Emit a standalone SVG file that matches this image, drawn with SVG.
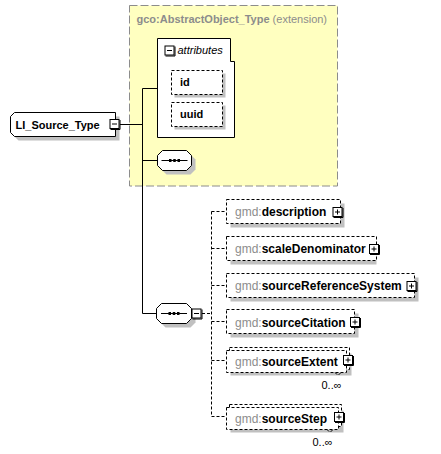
<svg xmlns="http://www.w3.org/2000/svg" width="441" height="454" viewBox="0 0 441 454">
<style>
text{font-family:"Liberation Sans",Arial,sans-serif;}
.t11{font-size:11px;font-weight:bold;fill:#000;}
.t12{font-size:12px;font-weight:bold;fill:#000;}
.ns{font-weight:normal;fill:#8c8c8c;}
.shadow{fill:#c0c0c0;stroke:none;}
.box{fill:#fff;stroke:#000;stroke-width:1;}
.dbox{fill:#fff;stroke:#000;stroke-width:1;stroke-dasharray:3,2;}
.line{fill:none;stroke:#000;stroke-width:1;}
.dline{fill:none;stroke:#000;stroke-width:1;stroke-dasharray:3,2;}
.mult{font-size:11px;fill:#000;}
</style>
<defs>
<g id="minus">
<rect x="0.5" y="0.5" width="9" height="9" fill="#fff" stroke="#000"/>
<path d="M10.5,1 V10.5 H1" fill="none" stroke="#000"/>
<path d="M2.5,5 H7.5" stroke="#000"/>
</g>
<g id="plus">
<rect x="0.5" y="0.5" width="9" height="9" fill="#fff" stroke="#000"/>
<path d="M10.5,1 V10.5 H1" fill="none" stroke="#000"/>
<path d="M2.5,5 H7.5 M5,2.5 V7.5" stroke="#000"/>
</g>
<g id="seqicon">
<path d="M-13,0 H13" stroke="#000"/>
<rect x="-5.5" y="-1.5" width="2.5" height="3" fill="#000"/>
<rect x="-1.25" y="-1.5" width="2.5" height="3" fill="#000"/>
<rect x="3" y="-1.5" width="2.5" height="3" fill="#000"/>
</g>
</defs>

<!-- extension area -->
<g id="extension">
<rect x="129.5" y="5.5" width="208" height="180.5" fill="#ffffc0" stroke="#8c8c8c" stroke-dasharray="8,3"/>
<text x="136.5" y="23" class="t11" style="fill:#8c8c8c">gco:AbstractObject_Type <tspan style="font-weight:normal">(extension)</tspan></text>
</g>

<!-- connectors -->
<g id="connectors">
<path class="line" d="M120,124.5 H142.5 M142.5,88.5 V313.5 M142.5,88.5 H157.5 M142.5,160.5 H157.5 M142.5,313.5 H156.5"/>
<path class="dline" d="M202,313.5 H211.5 M211.5,211.5 V416.5 M211.5,211.5 H226.5 M211.5,248.5 H226.5 M211.5,285.5 H226.5 M211.5,321.5 H226.5 M211.5,360.5 H226.5 M211.5,416.5 H226.5"/>
</g>

<!-- root -->
<g id="LI_Source_Type">
<path class="shadow" d="M18.5,116.5 H119.5 V140.5 H18.5 L14.5,136.5 V120.5 Z"/>
<path class="box" d="M14.5,112.5 H115.5 V136.5 H14.5 L10.5,132.5 V116.5 Z"/>
<text x="15.5" y="128.5" class="t11">LI_Source_Type</text>
<use href="#minus" x="109.5" y="119"/>
</g>

<!-- attributes -->
<g id="attributes">
<path class="box" d="M157.5,38.5 H230.5 V61.5 H234.5 V137.5 H157.5 Z"/>
<use href="#minus" x="164.5" y="45.5"/>
<text x="177.5" y="54" style="font-size:11px;font-style:italic;fill:#000">attributes</text>
</g>
<g id="attr_id">
<rect class="shadow" x="174.5" y="73.5" width="51" height="24"/>
<rect class="dbox" x="171.5" y="70.5" width="51" height="24"/>
<text x="180" y="86" class="t11">id</text>
</g>
<g id="attr_uuid">
<rect class="shadow" x="174.5" y="105.5" width="51" height="24"/>
<rect class="dbox" x="171.5" y="102.5" width="51" height="24"/>
<text x="180" y="118" class="t11">uuid</text>
</g>

<!-- sequence 1 -->
<g id="sequence1">
<path class="shadow" d="M166.5,154.5 H190.5 L195.5,159.5 V169.5 L190.5,174.5 H166.5 L161.5,169.5 V159.5 Z"/>
<path class="box" d="M162.5,150.5 H186.5 L191.5,155.5 V165.5 L186.5,170.5 H162.5 L157.5,165.5 V155.5 Z"/>
<use href="#seqicon" x="174.5" y="160.5"/>
</g>

<!-- sequence 2 -->
<g id="sequence2">
<path class="shadow" d="M165.5,307.5 H190.5 L195.5,312.5 V322.5 L190.5,327.5 H165.5 L160.5,322.5 V312.5 Z"/>
<path class="box" d="M161.5,303.5 H186.5 L191.5,308.5 V318.5 L186.5,323.5 H161.5 L156.5,318.5 V308.5 Z"/>
<use href="#seqicon" x="174" y="313.5"/>
<use href="#minus" x="191.5" y="308.5"/>
</g>

<!-- children -->
<g id="description">
<rect class="shadow" x="230.5" y="203.5" width="114" height="24"/>
<rect class="dbox" x="226.5" y="199.5" width="114" height="24"/>
<text x="235" y="216" class="t12"><tspan class="ns">gmd:</tspan>description</text>
<use href="#plus" x="332.5" y="207"/>
</g>
<g id="scaleDenominator">
<rect class="shadow" x="230.5" y="240.5" width="146" height="24"/>
<rect class="dbox" x="226.5" y="236.5" width="150" height="24"/>
<text x="235" y="253" class="t12"><tspan class="ns">gmd:</tspan>scaleDenominator</text>
<use href="#plus" x="369" y="244"/>
</g>
<g id="sourceReferenceSystem">
<rect class="shadow" x="230.5" y="277.5" width="188" height="24"/>
<rect class="dbox" x="226.5" y="273.5" width="188" height="24"/>
<text x="235" y="290" class="t12"><tspan class="ns">gmd:</tspan>sourceReferenceSystem</text>
<use href="#plus" x="406.5" y="281"/>
</g>
<g id="sourceCitation">
<rect class="shadow" x="230.5" y="313.5" width="128" height="24"/>
<rect class="dbox" x="226.5" y="309.5" width="128" height="24"/>
<text x="235" y="326.5" class="t12"><tspan class="ns">gmd:</tspan>sourceCitation</text>
<use href="#plus" x="350" y="317"/>
</g>
<g id="sourceExtent">
<rect class="shadow" x="230.5" y="353.5" width="121" height="22"/>
<rect class="dbox" x="229.5" y="347.5" width="120" height="22"/>
<rect class="dbox" x="226.5" y="350.5" width="120" height="22"/>
<path class="dline" d="M335,372.5 L338,375.5 L341,372.5"/>
<text x="235" y="365.5" class="t12"><tspan class="ns">gmd:</tspan>sourceExtent</text>
<use href="#plus" x="343" y="355"/>
<text x="321.5" y="389" class="mult">0..∞</text>
</g>
<g id="sourceStep">
<rect class="shadow" x="230.5" y="410.5" width="113" height="22"/>
<rect class="dbox" x="229.5" y="404.5" width="112" height="22"/>
<rect class="dbox" x="226.5" y="407.5" width="112" height="22"/>
<path class="dline" d="M327,429.5 L330,432.5 L333,429.5"/>
<text x="235" y="422.5" class="t12"><tspan class="ns">gmd:</tspan>sourceStep</text>
<use href="#plus" x="334" y="412"/>
<text x="312.5" y="446" class="mult">0..∞</text>
</g>
</svg>
